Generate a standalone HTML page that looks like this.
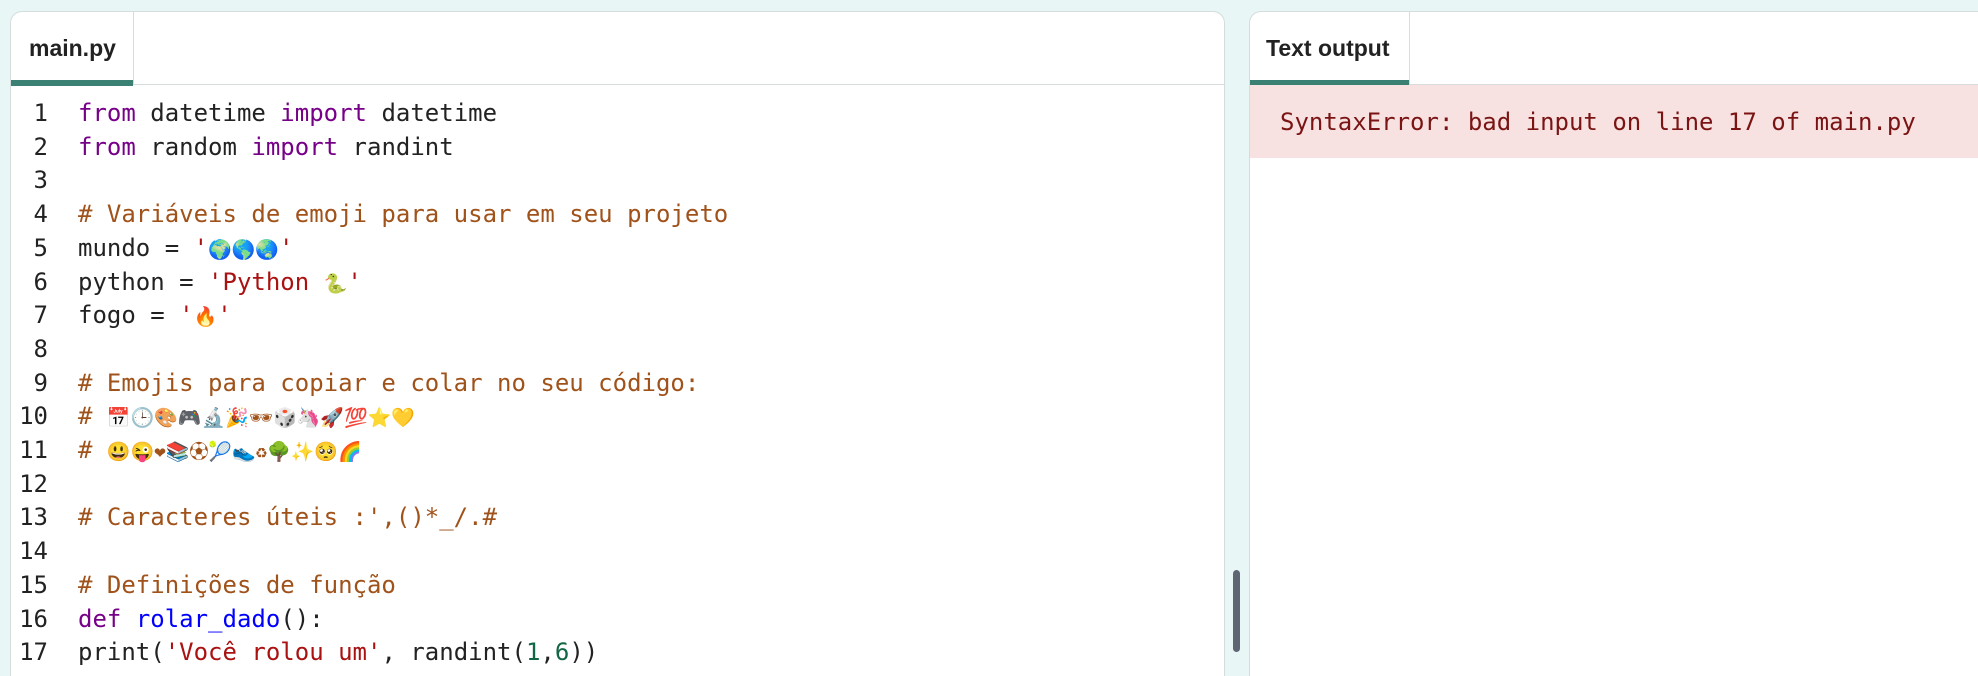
<!DOCTYPE html>
<html><head><meta charset="utf-8"><style>
*{margin:0;padding:0;box-sizing:border-box}
html{width:1978px;height:676px;overflow:hidden}
body{width:1978px;height:676px;background:#e8f6f6;position:relative;overflow:hidden;font-family:"Liberation Sans",sans-serif}
.panel{position:absolute;top:11px;background:#fff;border:1px solid #d5dcdc;border-bottom:none;border-radius:12px 12px 0 0;height:665px;overflow:hidden}
.tabbar{position:absolute;left:0;right:0;top:0;height:73px;border-bottom:1px solid #d8dcdc}
.tab{position:absolute;left:0;top:0;height:73px;border-right:1px solid #d8dcdc;font-weight:bold;font-size:23px;color:#222;line-height:72px;padding-left:18px}
.tab:after{content:"";position:absolute;left:0;right:0;bottom:-1px;height:6px;background:#3a8174}
.code{position:absolute;left:0;top:85px;font-family:"DejaVu Sans Mono","Liberation Mono","Noto Sans CJK JP",monospace;font-size:24px;color:#222}
.ln{position:absolute;left:0;width:37px;text-align:right;line-height:33.7px;height:33.7px;white-space:pre}
.cl{position:absolute;left:67px;line-height:33.7px;height:33.7px;white-space:pre}
.k{color:#770088}.c{color:#a0521b}.s{color:#aa1111}.f{color:#0000ff}.n{color:#116644}
.e{font-size:19px}
</style></head><body>
<div class="panel" style="left:10px;width:1215px">
 <div class="tabbar"><div class="tab" style="width:123px">main.py</div></div>
 <div class="code">
  <div class="ln" style="top:0">1</div><div class="cl" style="top:0"><span class="k">from</span> datetime <span class="k">import</span> datetime</div>
  <div class="ln" style="top:33.7px">2</div><div class="cl" style="top:33.7px"><span class="k">from</span> random <span class="k">import</span> randint</div>
  <div class="ln" style="top:67.4px">3</div>
  <div class="ln" style="top:101.1px">4</div><div class="cl c" style="top:101.1px"># Variáveis de emoji para usar em seu projeto</div>
  <div class="ln" style="top:134.8px">5</div><div class="cl" style="top:134.8px">mundo = <span class="s">'<span class="e">🌍🌎🌏</span>'</span></div>
  <div class="ln" style="top:168.5px">6</div><div class="cl" style="top:168.5px">python = <span class="s">'Python <span class="e">🐍</span>'</span></div>
  <div class="ln" style="top:202.2px">7</div><div class="cl" style="top:202.2px">fogo = <span class="s">'<span class="e">🔥</span>'</span></div>
  <div class="ln" style="top:235.9px">8</div>
  <div class="ln" style="top:269.6px">9</div><div class="cl c" style="top:269.6px"># Emojis para copiar e colar no seu código:</div>
  <div class="ln" style="top:303.3px">10</div><div class="cl c" style="top:303.3px"># <span class="e">📅🕒🎨🎮🔬🎉🕶🎲🦄🚀💯⭐💛</span></div>
  <div class="ln" style="top:337px">11</div><div class="cl c" style="top:337px"># <span class="e">😃😜❤📚⚽🎾👟♻🌳✨🥺🌈</span></div>
  <div class="ln" style="top:370.7px">12</div>
  <div class="ln" style="top:404.4px">13</div><div class="cl c" style="top:404.4px"># Caracteres úteis :',()*_/.#</div>
  <div class="ln" style="top:438.1px">14</div>
  <div class="ln" style="top:471.8px">15</div><div class="cl c" style="top:471.8px"># Definições de função</div>
  <div class="ln" style="top:505.5px">16</div><div class="cl" style="top:505.5px"><span class="k">def</span> <span class="f">rolar_dado</span>():</div>
  <div class="ln" style="top:539.2px">17</div><div class="cl" style="top:539.2px">print(<span class="s">'Você rolou um'</span>, randint(<span class="n">1</span>,<span class="n">6</span>))</div>
  <div class="ln" style="top:572.9px">18</div>
 </div>
</div>
<div style="position:absolute;left:1233px;top:570px;width:7px;height:82px;border-radius:4px;background:#5f6673"></div>
<div class="panel" style="left:1249px;width:740px">
 <div class="tabbar"><div class="tab" style="width:160px;padding-left:16px">Text output</div></div>
 <div style="position:absolute;left:0;right:0;top:73px;height:73px;background:#f8e1e1;font-family:'DejaVu Sans Mono','Liberation Mono',monospace;font-size:24px;color:#7a1414;line-height:27px;padding:24px 0 0 30px">SyntaxError: bad input on line 17 of main.py</div>
</div>
</body></html>
